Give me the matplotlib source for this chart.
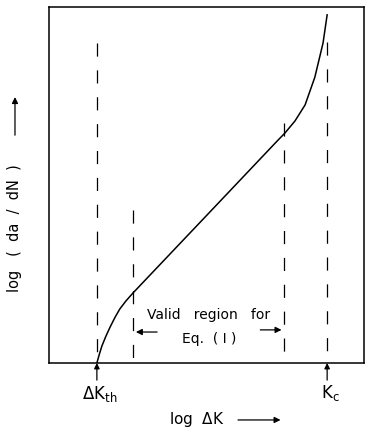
import numpy as np
import matplotlib.pyplot as plt

# curve (arbitrary log units, 0..10 on both axes)
curve_x = [1.52, 1.59, 1.68, 1.81, 1.94, 2.10, 2.25, 2.44, 2.67, 5.02, 7.27, 7.49,
           7.81, 8.13, 8.44, 8.70, 8.83]
curve_y = [0.00, 0.22, 0.48, 0.76, 1.01, 1.29, 1.52, 1.74, 1.97, 4.16, 6.26, 6.46,
           6.80, 7.25, 8.03, 8.99, 9.78]

# vertical dashed guides: x position and top
guide_x = [1.52, 2.67, 7.47, 8.83]
guide_top = [8.99, 4.30, 6.74, 9.02]

k_th = 1.52
k_c = 8.83
valid_lo = 2.67
valid_hi = 7.47

plt.rcParams["font.family"] = ["DejaVu Sans"]
plt.rcParams["mathtext.default"] = "regular"

fig = plt.figure(figsize=(3.67, 4.30), dpi=100)
ax = fig.add_axes([49 / 367, 67 / 430, 315 / 367, 356 / 430])
ax.set_xlim(0, 10)
ax.set_ylim(0, 10)
ax.set_xticks([])
ax.set_yticks([])
for s in ax.spines.values():
    s.set_linewidth(1.1)

ax.plot(curve_x, curve_y, color="black", lw=1.1)

for gx, gt in zip(guide_x, guide_top):
    ax.plot([gx, gx], [gt, 0], color="black", lw=0.9, dashes=(10.5, 11))

# valid region annotation
ax.text(5.08, 1.34, "Valid   region   for", ha="center", va="center", fontsize=10)
ax.text(5.08, 0.68, "Eq.  ( I )", ha="center", va="center", fontsize=10)
ax.annotate("", xy=(valid_lo, 0.87), xytext=(valid_lo + 0.85, 0.87),
            arrowprops=dict(arrowstyle="-|>", color="black", lw=0.9, mutation_scale=9))
ax.annotate("", xy=(valid_hi, 0.93), xytext=(valid_hi - 0.85, 0.93),
            arrowprops=dict(arrowstyle="-|>", color="black", lw=0.9, mutation_scale=9))

# arrows under the axis
for kx in (k_th, k_c):
    ax.annotate("", xy=(kx, 0.0), xytext=(kx, -0.48), annotation_clip=False,
                arrowprops=dict(arrowstyle="-|>", color="black", lw=0.9,
                                mutation_scale=8, shrinkA=0, shrinkB=0))
ax.text(1.6, -0.86, r"$\Delta K_{th}$", ha="center", va="center", fontsize=12, clip_on=False)
ax.text(8.94, -0.84, r"$K_{c}$", ha="center", va="center", fontsize=12, clip_on=False)

# axis labels with arrows
ax.text(4.68, -1.60, r"log  $\Delta$K", ha="center", va="center", fontsize=11, clip_on=False)
ax.annotate("", xy=(7.35, -1.60), xytext=(6.0, -1.60), annotation_clip=False,
            arrowprops=dict(arrowstyle="-|>", color="black", lw=0.9,
                            mutation_scale=9, shrinkA=0, shrinkB=0))
ax.text(-1.08, 3.8, "log   (  da  /  dN  )", ha="center", va="center", rotation=90,
        fontsize=10.5, clip_on=False)
ax.annotate("", xy=(-1.08, 7.47), xytext=(-1.08, 6.40), annotation_clip=False,
            arrowprops=dict(arrowstyle="-|>", color="black", lw=0.9,
                            mutation_scale=9, shrinkA=0, shrinkB=0))

fig.savefig("out.png", dpi=100)
